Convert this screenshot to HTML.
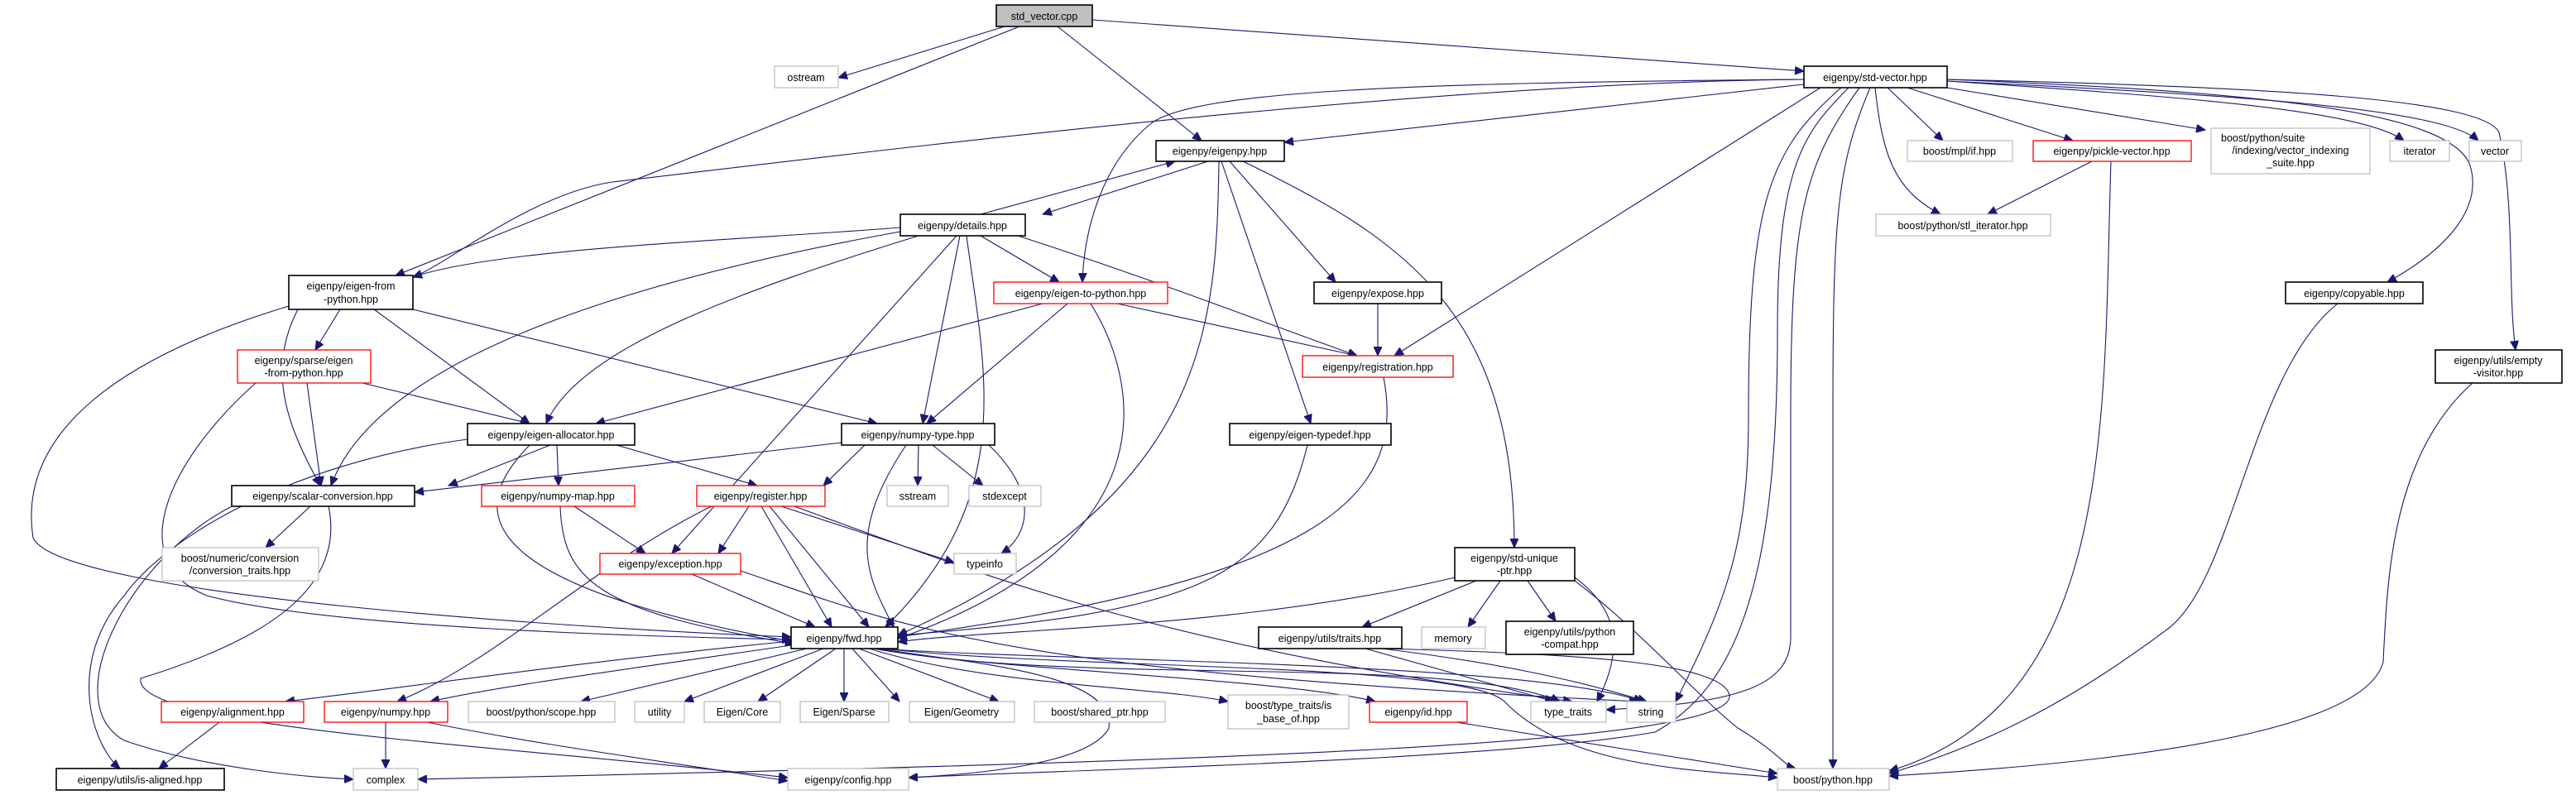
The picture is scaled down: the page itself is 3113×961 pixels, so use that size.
<!DOCTYPE html>
<html><head><meta charset="utf-8"><style>
html,body{margin:0;padding:0;background:#fff;}
svg{display:block;}
text{font-family:"Liberation Sans","DejaVu Sans",sans-serif;font-size:12.5px;fill:#000;text-anchor:middle;}
.e{fill:none;stroke:#191970;stroke-width:1.1;marker-end:url(#a);}
.b{fill:#fff;stroke:#000;stroke-width:1.6;}
.g{fill:#fff;stroke:#bfbfbf;stroke-width:1.3;}
.r{fill:#fff;stroke:#ff0000;stroke-width:1.3;}
</style></head><body>
<svg width="3113" height="961" viewBox="0 0 3113 961" xmlns="http://www.w3.org/2000/svg">
<defs><marker id="a" markerUnits="userSpaceOnUse" markerWidth="12" markerHeight="10" refX="11" refY="5" orient="auto"><path d="M0,0 L11,5 L0,10 z" fill="#191970" stroke="#191970"/></marker></defs>

<g>
<path class="e" d="M1214,32 L1013,94"/>
<path class="e" d="M1232,32 L478,333"/>
<path class="e" d="M1278,32 L1452,170"/>
<path class="e" d="M1320,24 L2180,86"/>
<path class="e" d="M2180,102 L1552,172"/>
<path class="e" d="M2180,96 C1700,100 1440,110 1390,150 C1330,200 1310,280 1308,341"/>
<path class="e" d="M2180,96 C1700,100 1000,190 740,220 C640,235 540,320 499,335"/>
<path class="e" d="M2200,106 L1685,430"/>
<path class="e" d="M2281,106 L2348,170"/>
<path class="e" d="M2305,106 L2505,170"/>
<path class="e" d="M2353,106 L2665,157"/>
<path class="e" d="M2353,98 C2600,115 2850,130 2905,170"/>
<path class="e" d="M2353,98 C2700,115 2950,130 2995,170"/>
<path class="e" d="M2353,96 C2700,110 2960,130 2985,200 C3000,250 2960,300 2885,341"/>
<path class="e" d="M2353,96 C2750,105 3000,120 3020,160 C3040,250 3030,350 3040,423"/>
<path class="e" d="M2266,106 C2275,190 2290,230 2345,259"/>
<path class="e" d="M2225,106 C2140,180 2113,240 2113,500 C2113,650 2090,720 2025,848"/>
<path class="e" d="M2247,106 C2180,200 2164,260 2164,500 L2164,770 C2164,830 2100,850 1941,858"/>
<path class="e" d="M2260,106 C2220,200 2215,260 2215,500 L2215,929"/>
<path class="e" d="M2234,106 C2180,160 2148,200 2148,400 C2148,700 2100,830 2000,885 C1800,920 1300,930 1098,940"/>
<path class="e" d="M1460,195 L1260,259"/>
<path class="e" d="M1185,259 L1420,195"/>
<path class="e" d="M1473,195 C1470,400 1460,600 1085,768"/>
<path class="e" d="M1476,195 L1584,512"/>
<path class="e" d="M1486,195 L1614,341"/>
<path class="e" d="M1502,195 C1700,290 1830,380 1830,662"/>
<path class="e" d="M1088,275 C900,290 600,300 499,335"/>
<path class="e" d="M1110,285 C900,350 700,420 660,512"/>
<path class="e" d="M1088,280 C700,350 450,450 400,587"/>
<path class="e" d="M1185,285 L1280,341"/>
<path class="e" d="M1230,285 C1400,340 1500,380 1640,430"/>
<path class="e" d="M1160,285 L1115,512"/>
<path class="e" d="M1156,285 L812,669"/>
<path class="e" d="M1168,285 C1190,450 1230,600 1070,758"/>
<path class="e" d="M411,374 L381,423"/>
<path class="e" d="M452,374 L640,512"/>
<path class="e" d="M360,374 C320,450 350,520 387,587"/>
<path class="e" d="M499,374 L1060,512"/>
<path class="e" d="M349,370 C150,430 20,520 40,650 C70,720 700,760 956,770"/>
<path class="e" d="M438,463 L640,512"/>
<path class="e" d="M371,463 L388,587"/>
<path class="e" d="M309,463 C200,560 150,680 250,720 C400,760 800,770 956,773"/>
<path class="e" d="M1260,367 L720,512"/>
<path class="e" d="M1290,367 L1120,512"/>
<path class="e" d="M1350,367 L1640,430"/>
<path class="e" d="M1318,367 C1370,450 1430,650 1085,772"/>
<path class="e" d="M1665,367 L1665,430"/>
<path class="e" d="M1672,456 C1700,600 1600,700 1085,770"/>
<path class="e" d="M1580,538 C1540,700 1450,740 1085,768"/>
<path class="e" d="M665,538 L542,587"/>
<path class="e" d="M673,538 L675,587"/>
<path class="e" d="M745,538 L915,587"/>
<path class="e" d="M640,538 C580,600 530,700 960,776"/>
<path class="e" d="M565,531 C350,560 200,650 150,720 C80,800 110,900 145,929"/>
<path class="e" d="M1017,535 L501,595"/>
<path class="e" d="M1045,538 L995,587"/>
<path class="e" d="M1110,538 L1109,587"/>
<path class="e" d="M1127,538 L1188,587"/>
<path class="e" d="M1195,538 C1260,600 1240,650 1210,669"/>
<path class="e" d="M1095,538 C1020,650 1050,700 1080,758"/>
<path class="e" d="M375,612 L321,662"/>
<path class="e" d="M280,612 C150,680 70,850 150,895 C250,930 380,940 427,942"/>
<path class="e" d="M397,612 C420,720 300,780 170,820 C160,880 600,900 952,940"/>
<path class="e" d="M694,612 L780,669"/>
<path class="e" d="M677,612 C680,700 720,740 960,778"/>
<path class="e" d="M905,612 L868,669"/>
<path class="e" d="M920,612 L1005,758"/>
<path class="e" d="M860,612 C720,680 600,800 480,848"/>
<path class="e" d="M944,612 L1153,680"/>
<path class="e" d="M960,612 C1200,700 1400,780 1900,848"/>
<path class="e" d="M930,612 L1050,758"/>
<path class="e" d="M836,694 L985,758"/>
<path class="e" d="M895,690 C1100,760 1200,810 1980,848"/>
<path class="e" d="M1758,698 C1500,760 1200,760 1085,776"/>
<path class="e" d="M1784,702 L1646,758"/>
<path class="e" d="M1813,702 L1774,758"/>
<path class="e" d="M1846,702 L1880,751"/>
<path class="e" d="M1903,698 C1960,740 1960,790 1930,848"/>
<path class="e" d="M1903,702 C1980,760 2050,840 2100,880 C2150,910 2155,925 2170,929"/>
<path class="e" d="M1650,784 L1878,848"/>
<path class="e" d="M1670,784 C1800,800 1900,820 1990,848"/>
<path class="e" d="M1670,784 C1900,790 2080,800 2090,840 C2100,900 1500,920 505,942"/>
<path class="e" d="M956,775 C700,800 500,830 345,848"/>
<path class="e" d="M956,780 C750,810 600,830 520,848"/>
<path class="e" d="M975,784 L702,848"/>
<path class="e" d="M995,784 L827,848"/>
<path class="e" d="M1010,784 L916,848"/>
<path class="e" d="M1020,784 L1020,848"/>
<path class="e" d="M1030,784 L1087,848"/>
<path class="e" d="M1038,784 L1207,848"/>
<path class="e" d="M1050,784 C1200,830 1400,830 1484,848"/>
<path class="e" d="M1055,784 C1200,810 1550,820 1662,848"/>
<path class="e" d="M1058,784 C1300,830 1750,790 1885,848"/>
<path class="e" d="M1060,784 C1300,800 1850,800 1985,848"/>
<path class="e" d="M1063,784 C1150,800 1350,810 1340,880 C1320,920 1200,935 1098,940"/>
<path class="e" d="M1066,784 C1300,810 1780,800 1820,850 C1900,930 2050,930 2148,940"/>
<path class="e" d="M265,873 L192,929"/>
<path class="e" d="M466,873 L466,929"/>
<path class="e" d="M516,873 C650,900 800,920 952,944"/>
<path class="e" d="M1760,873 L2148,935"/>
<path class="e" d="M2528,195 L2402,259"/>
<path class="e" d="M2551,195 C2541,500 2560,850 2283,932"/>
<path class="e" d="M2825,367 C2720,450 2700,700 2620,760 C2500,850 2400,900 2283,935"/>
<path class="e" d="M2988,463 C2890,550 2885,700 2880,800 C2860,880 2600,920 2283,938"/>
</g>

<g>
<rect x="1204" y="6" width="116" height="26" fill="#bfbfbf" stroke="#000" stroke-width="1.6"/><text x="1262" y="24">std_vector.cpp</text>
<rect class="g" x="936" y="80" width="77" height="26"/><text x="974" y="98">ostream</text>
<rect class="b" x="349" y="333" width="150" height="41"/><text x="424" y="350">eigenpy/eigen-from</text><text x="424" y="366">-python.hpp</text>
<rect class="r" x="287" y="423" width="161" height="40"/><text x="367" y="440">eigenpy/sparse/eigen</text><text x="367" y="455">-from-python.hpp</text>
<rect class="b" x="565" y="512" width="202" height="26"/><text x="666" y="530">eigenpy/eigen-allocator.hpp</text>
<rect class="b" x="280" y="587" width="221" height="25"/><text x="390" y="604">eigenpy/scalar-conversion.hpp</text>
<rect class="r" x="582" y="587" width="185" height="25"/><text x="674" y="604">eigenpy/numpy-map.hpp</text>
<rect class="r" x="842" y="587" width="155" height="25"/><text x="919" y="604">eigenpy/register.hpp</text>
<rect class="g" x="196" y="662" width="189" height="40"/><text x="290" y="679">boost/numeric/conversion</text><text x="290" y="694">/conversion_traits.hpp</text>
<rect class="r" x="725" y="669" width="170" height="25"/><text x="810" y="686">eigenpy/exception.hpp</text>
<rect class="b" x="956" y="758" width="129" height="26"/><text x="1020" y="776">eigenpy/fwd.hpp</text>
<rect class="r" x="195" y="848" width="172" height="25"/><text x="281" y="865">eigenpy/alignment.hpp</text>
<rect class="r" x="392" y="848" width="149" height="25"/><text x="466" y="865">eigenpy/numpy.hpp</text>
<rect class="g" x="566" y="848" width="177" height="25"/><text x="654" y="865">boost/python/scope.hpp</text>
<rect class="g" x="767" y="848" width="60" height="25"/><text x="797" y="865">utility</text>
<rect class="g" x="851" y="848" width="92" height="25"/><text x="897" y="865">Eigen/Core</text>
<rect class="g" x="967" y="848" width="107" height="25"/><text x="1020" y="865">Eigen/Sparse</text>
<rect class="g" x="1099" y="848" width="127" height="25"/><text x="1162" y="865">Eigen/Geometry</text>
<rect class="g" x="1250" y="848" width="158" height="25"/><text x="1329" y="865">boost/shared_ptr.hpp</text>
<rect class="g" x="1484" y="840" width="146" height="41"/><text x="1557" y="857">boost/type_traits/is</text><text x="1557" y="873">_base_of.hpp</text>
<rect class="r" x="1655" y="848" width="118" height="25"/><text x="1714" y="865">eigenpy/id.hpp</text>
<rect class="g" x="1850" y="848" width="91" height="25"/><text x="1895" y="865">type_traits</text>
<rect class="g" x="1966" y="848" width="59" height="25"/><text x="1995" y="865">string</text>
<rect class="b" x="68" y="929" width="203" height="26"/><text x="169" y="947">eigenpy/utils/is-aligned.hpp</text>
<rect class="g" x="427" y="929" width="78" height="26"/><text x="466" y="947">complex</text>
<rect class="g" x="952" y="929" width="146" height="26"/><text x="1025" y="947">eigenpy/config.hpp</text>
<rect class="g" x="2148" y="929" width="135" height="26"/><text x="2215" y="947">boost/python.hpp</text>
<rect class="b" x="1397" y="170" width="155" height="25"/><text x="1474" y="187">eigenpy/eigenpy.hpp</text>
<rect class="b" x="1088" y="259" width="151" height="26"/><text x="1163" y="277">eigenpy/details.hpp</text>
<rect class="r" x="1201" y="341" width="210" height="26"/><text x="1306" y="359">eigenpy/eigen-to-python.hpp</text>
<rect class="b" x="1588" y="341" width="154" height="26"/><text x="1665" y="359">eigenpy/expose.hpp</text>
<rect class="r" x="1574" y="430" width="182" height="26"/><text x="1665" y="448">eigenpy/registration.hpp</text>
<rect class="b" x="1017" y="512" width="185" height="26"/><text x="1109" y="530">eigenpy/numpy-type.hpp</text>
<rect class="b" x="1486" y="512" width="195" height="26"/><text x="1583" y="530">eigenpy/eigen-typedef.hpp</text>
<rect class="g" x="1072" y="587" width="74" height="25"/><text x="1109" y="604">sstream</text>
<rect class="g" x="1171" y="587" width="87" height="25"/><text x="1214" y="604">stdexcept</text>
<rect class="g" x="1153" y="669" width="75" height="25"/><text x="1190" y="686">typeinfo</text>
<rect class="b" x="1758" y="662" width="145" height="40"/><text x="1830" y="679">eigenpy/std-unique</text><text x="1830" y="694">-ptr.hpp</text>
<rect class="b" x="1521" y="758" width="173" height="26"/><text x="1607" y="776">eigenpy/utils/traits.hpp</text>
<rect class="g" x="1718" y="758" width="77" height="26"/><text x="1756" y="776">memory</text>
<rect class="b" x="1820" y="751" width="154" height="40"/><text x="1897" y="768">eigenpy/utils/python</text><text x="1897" y="783">-compat.hpp</text>
<rect class="b" x="2180" y="80" width="173" height="26"/><text x="2266" y="98">eigenpy/std-vector.hpp</text>
<rect class="g" x="2305" y="170" width="127" height="25"/><text x="2368" y="187">boost/mpl/if.hpp</text>
<rect class="r" x="2457" y="170" width="191" height="25"/><text x="2552" y="187">eigenpy/pickle-vector.hpp</text>
<rect class="g" x="2672" y="155" width="192" height="55"/><text x="2684" y="171" style="text-anchor:start">boost/python/suite</text><text x="2768" y="186">/indexing/vector_indexing</text><text x="2768" y="201">_suite.hpp</text>
<rect class="g" x="2888" y="170" width="72" height="25"/><text x="2924" y="187">iterator</text>
<rect class="g" x="2984" y="170" width="63" height="25"/><text x="3015" y="187">vector</text>
<rect class="g" x="2267" y="259" width="211" height="26"/><text x="2372" y="277">boost/python/stl_iterator.hpp</text>
<rect class="b" x="2762" y="341" width="166" height="26"/><text x="2845" y="359">eigenpy/copyable.hpp</text>
<rect class="b" x="2943" y="423" width="153" height="40"/><text x="3019" y="440">eigenpy/utils/empty</text><text x="3019" y="455">-visitor.hpp</text>
</g>
</svg>
</body></html>
